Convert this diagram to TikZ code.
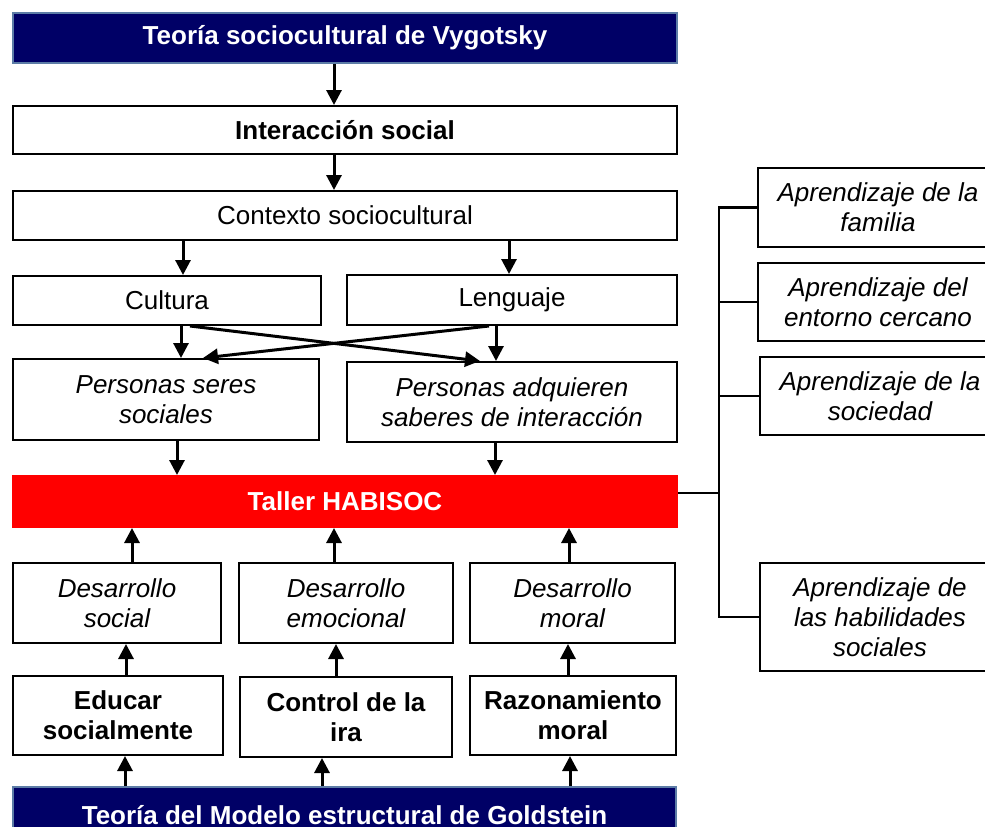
\documentclass[tikz,border=0pt]{standalone}
\usepackage{fontspec}
\setmainfont{Liberation Sans}
\usepackage{xcolor}
\usepackage{tikz}
\usetikzlibrary{arrows.meta}
\definecolor{navy}{RGB}{0,0,102}
\definecolor{steel}{RGB}{92,124,166}

\begin{document}
\begin{tikzpicture}[x=1pt, y=-1pt,
    box/.style={draw, line width=2pt, inner sep=0pt, align=center, font=\fontsize{26}{30}\selectfont},
    boldbox/.style={box, font=\fontsize{26}{30}\selectfont\bfseries},
    itbox/.style={box, font=\fontsize{26}{30}\selectfont\itshape},
    theory/.style={boldbox, draw=steel, fill=navy, text=white},
    arr/.style={line width=3pt, -{Triangle[length=15pt,width=15pt]}},
    link/.style={line width=2.5pt}]
    \useasboundingbox (0,0) rectangle (985,827);
    \clip (0,0) rectangle (985,827);

    \node[theory, minimum width=664pt, minimum height=50pt] (vyg) at (345,38) {Teoría sociocultural de Vygotsky};
    \node[boldbox, minimum width=664pt, minimum height=48pt] (inter) at (345,130) {Interacción social};
    \node[box, minimum width=664pt, minimum height=49pt] (ctx) at (345,215.5) {Contexto sociocultural};
    \node[box, minimum width=308pt, minimum height=49pt] (cult) at (167,300.5) {Cultura};
    \node[box, minimum width=330pt, minimum height=50pt] (leng) at (512,300) {Lenguaje};
    \node[itbox, minimum width=306pt, minimum height=81pt] (pss) at (166,399.5) {Personas seres\\sociales};
    \node[itbox, minimum width=330pt, minimum height=80pt] (pas) at (512,402) {Personas adquieren\\saberes de interacción};
    \node[boldbox, draw=red, fill=red, text=white, minimum width=664pt, minimum height=51pt] (taller) at (345,501.5) {Taller HABISOC};

    \node[itbox, minimum width=208pt, minimum height=80pt] (dsoc) at (117,603) {Desarrollo\\social};
    \node[itbox, minimum width=214pt, minimum height=80pt] (demo) at (346,603) {Desarrollo\\emocional};
    \node[itbox, minimum width=205pt, minimum height=80pt] (dmor) at (572.5,603) {Desarrollo\\moral};
    \node[boldbox, minimum width=210pt, minimum height=79pt] (edu) at (118,715.5) {Educar\\socialmente};
    \node[boldbox, minimum width=212pt, minimum height=80pt] (ira) at (346,717) {Control de la\\ira};
    \node[boldbox, minimum width=206pt, minimum height=79pt] (raz) at (573,715.5) {Razonamiento\\moral};
    \node[theory, minimum width=663pt, minimum height=56pt] (gold) at (344.5,815) {Teoría del Modelo estructural de Goldstein};

    \node[itbox, minimum width=240pt, minimum height=79pt] (fam) at (878,207.5) {Aprendizaje de la\\familia};
    \node[itbox, minimum width=240pt, minimum height=78pt] (ent) at (878,302) {Aprendizaje del\\entorno cercano};
    \node[itbox, minimum width=240pt, minimum height=78pt] (soc) at (880,396) {Aprendizaje de la\\sociedad};
    \node[itbox, minimum width=240pt, minimum height=108pt] (hab) at (880,617) {Aprendizaje de\\las habilidades\\sociales};

    \draw[arr] (vyg.south -| 334,0) -- (inter.north -| 334,0);
    \draw[arr] (inter.south -| 334,0) -- (ctx.north -| 334,0);
    \draw[arr] (ctx.south -| 183,0) -- (cult.north -| 183,0); \draw[arr] (ctx.south -| 509,0) -- (leng.north -| 509,0);
    \draw[arr] (cult.south -| 181,0) -- (pss.north -| 181,0); \draw[arr] (leng.south -| 496,0) -- (pas.north -| 496,0);
    \draw[arr] (cult.south -| 190,0) -- (pas.north -| 480,0); \draw[arr] (leng.south -| 489,0) -- (pss.north -| 203,0);
    \draw[arr] (pss.south -| 177,0) -- (taller.north -| 177,0); \draw[arr] (pas.south -| 495,0) -- (taller.north -| 495,0);

    \draw[arr] (dsoc.north -| 132,0) -- (taller.south -| 132,0);
    \draw[arr] (demo.north -| 334,0) -- (taller.south -| 334,0);
    \draw[arr] (dmor.north -| 569,0) -- (taller.south -| 569,0);
    \draw[arr] (edu.north -| 126,0) -- (dsoc.south -| 126,0);
    \draw[arr] (ira.north -| 336,0) -- (demo.south -| 336,0);
    \draw[arr] (raz.north -| 568,0) -- (dmor.south -| 568,0);
    \draw[arr] (gold.north -| 125,0) -- (edu.south -| 125,0);
    \draw[arr] (gold.north -| 322,0) -- (ira.south -| 322,0);
    \draw[arr] (gold.north -| 570,0) -- (raz.south -| 570,0);

    \coordinate (bus) at (719,493);
    \draw[link] (taller.east |- bus) -- (bus);
    \draw[link] (fam.west) -| (bus) |- (hab.west);
    \draw[link] (ent.west) -- (ent.west -| bus); \draw[link] (soc.west) -- (soc.west -| bus);
\end{tikzpicture}
\end{document}
